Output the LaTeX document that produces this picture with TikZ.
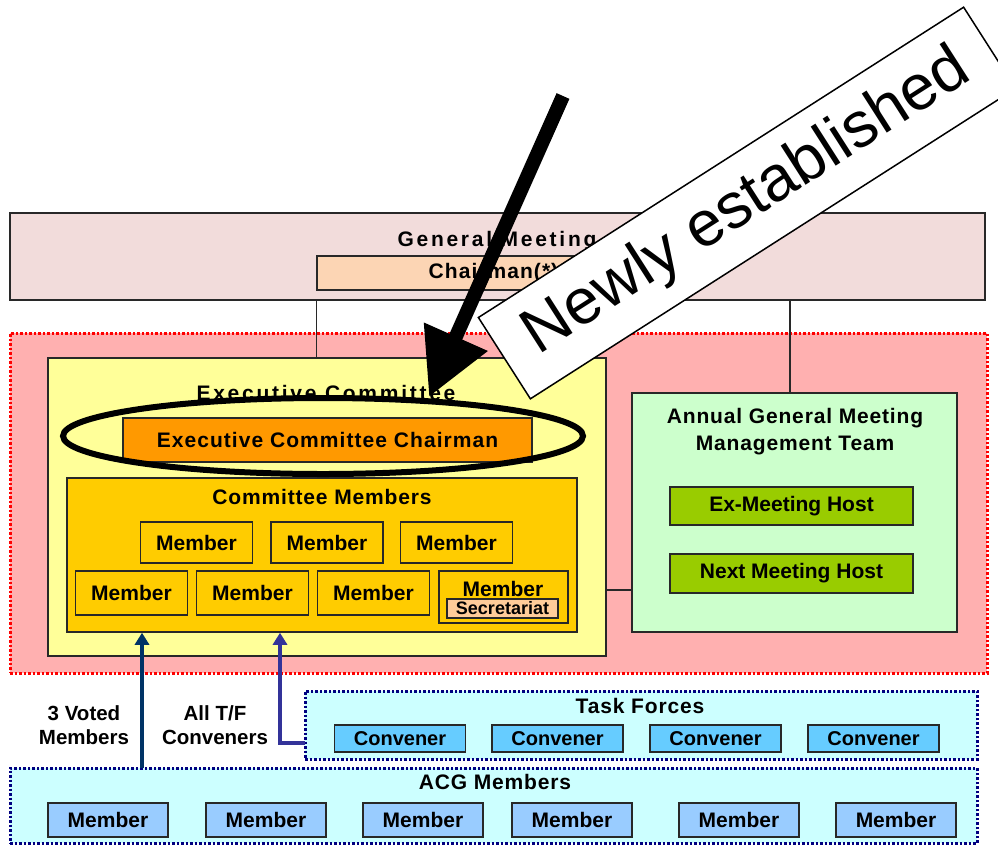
\documentclass[tikz,border=0pt]{standalone}
\usepackage{fontspec}
\setmainfont{Liberation Sans}
\usetikzlibrary{arrows.meta,calc,shapes.geometric}

\definecolor{gmfill}{RGB}{242,220,219}
\definecolor{chairfill}{RGB}{252,213,180}
\definecolor{redzone}{RGB}{255,176,176}
\definecolor{ecfill}{RGB}{255,255,153}
\definecolor{eccfill}{RGB}{255,153,0}
\definecolor{cmfill}{RGB}{255,204,0}
\definecolor{secfill}{RGB}{255,204,153}
\definecolor{agmfill}{RGB}{204,255,204}
\definecolor{hostfill}{RGB}{153,204,0}
\definecolor{cyanzone}{RGB}{204,255,255}
\definecolor{convfill}{RGB}{102,204,255}
\definecolor{acgfill}{RGB}{153,204,255}
\definecolor{boxline}{RGB}{40,40,40}
\definecolor{navyline}{RGB}{0,0,128}
\definecolor{votearrow}{RGB}{0,51,102}
\definecolor{tfarrow}{RGB}{51,51,153}

\tikzset{
  box/.style={draw=boxline, line width=1.5pt, inner sep=0pt,
    font=\bfseries\fontsize{21}{24}\selectfont},
  zone/.style={line width=3pt, dash pattern=on 2.5pt off 2pt, inner sep=0pt},
  heading/.style={inner sep=0pt, align=center,
    font=\bfseries\fontsize{21}{27}\selectfont\addfontfeature{LetterSpace=4}},
  bigheading/.style={inner sep=0pt,
    font=\bfseries\fontsize{21}{24}\selectfont\addfontfeature{LetterSpace=13}},
  sidelabel/.style={inner sep=0pt, align=center,
    font=\bfseries\fontsize{20.5}{24}\selectfont},
  flow/.style={line width=4pt, -{Triangle[length=12pt,width=14pt]}},
  link/.style={draw=boxline, line width=1.3pt},
}

\begin{document}
\begin{tikzpicture}[x=1pt,y=-1pt]
\useasboundingbox (0,0) rectangle (998,844);

% General meeting
\node[box, fill=gmfill, minimum width=975, minimum height=87] (gm) at (497.5,256.5) {};
\node[bigheading] (gmtitle) at (497,241) {General Meeting};
\node[box, fill=chairfill, minimum width=353, minimum height=34] (gmchair) at (493.5,273) {\addfontfeature{LetterSpace=5}Chairman(*)};

% Red zone with executive committee and AGM team
\node[zone, draw=red, fill=redzone, minimum width=977, minimum height=340] (redzone) at (498.5,503) {};

\draw[link] (gmchair.west |- gm.south) -- (gmchair.west |- 0,358) coordinate (ectop);

\node[box, fill=ecfill, minimum width=558, minimum height=298] (ec) at (327,507) {};
\node[bigheading] (ectitle) at (326,393) {Executive Committee};
\node[box, fill=eccfill, minimum width=409, minimum height=44] (ecc) at (327.5,440)
  {\addfontfeature{LetterSpace=5}Executive Committee Chairman};

\node[box, fill=cmfill, minimum width=510, minimum height=154] (cm) at (322,555) {};
\node[heading] (cmtitle) at (322,497) {Committee Members};

\foreach \n/\cx in {1/196.5, 2/327, 3/456.5}
  \node[box, fill=cmfill, minimum width=112, minimum height=41] (ma\n) at (\cx,542.5) {Member};
\foreach \n/\cx in {1/131.5, 2/252.5, 3/373.5}
  \node[box, fill=cmfill, minimum width=112, minimum height=44] (mb\n) at (\cx,593) {Member};
\node[box, fill=cmfill, minimum width=129, minimum height=52] (msec) at (503.5,597) {};
\node[inner sep=0pt, font=\bfseries\fontsize{21}{24}\selectfont] (msectext) at (503,589) {Member};
\node[box, fill=secfill, minimum width=111, minimum height=19,
  font=\bfseries\fontsize{18}{20}\selectfont] (secr) at (502.5,608.5) {Secretariat};

% Highlight ring around the new chairman post
\node[draw, ellipse, line width=6pt, minimum width=520, minimum height=76] (ring) at (323,436) {};

% AGM management team
\node[box, fill=agmfill, minimum width=325, minimum height=239] (agm) at (794.5,512.5) {};
\node[heading] (agmtitle) at (795,431.5) {Annual General Meeting\\Management Team};
\node[box, fill=hostfill, minimum width=243, minimum height=38] (exhost) at (791.5,506) {Ex-Meeting Host};
\node[box, fill=hostfill, minimum width=243, minimum height=39] (nxhost) at (791.5,573.5) {Next Meeting Host};

\draw[link] (agm.north -| 790,0) -- (790,0 |- gm.south);
\path (ec.east) ++(0,83) coordinate (ecagm);
\draw[link] (ecagm) -- (ecagm -| agm.west);

% Task forces
\node[zone, draw=navyline, fill=cyanzone, minimum width=672, minimum height=68] (tf) at (641,725) {};
\node[heading] (tftitle) at (640,706) {Task Forces};
\foreach \n/\cx in {1/400, 2/557.5, 3/715.5, 4/873.5}
  \node[box, fill=convfill, minimum width=131, minimum height=27,
    font=\bfseries\fontsize{20}{22}\selectfont] (conv\n) at (\cx,738.5) {Convener};

% ACG members
\node[zone, draw=navyline, fill=cyanzone, minimum width=967, minimum height=75] (acg) at (493.5,805.5) {};
\node[heading] (acgtitle) at (495,782) {ACG Members};
\foreach \n/\cx in {1/108, 2/266, 3/423, 4/572, 5/739, 6/896}
  \node[box, fill=acgfill, minimum width=120, minimum height=34] (acgm\n) at (\cx,820) {Member};

% Paths into the committee
\coordinate (voteroot) at (142,768);
\draw[flow, votearrow] (voteroot) -- (voteroot |- cm.south);
\coordinate (tfroot) at (305,743);
\draw[flow, tfarrow] (tfroot) -| ($(cm.south)+(-42,0)$);

\node[sidelabel] (votelabel) at (84,725) {3 Voted\\Members};
\node[sidelabel] (tflabel) at (215,725) {All T/F\\Conveners};

% Callout
\coordinate (bigtail) at (563,96);
\coordinate (bigtip) at (429,397);
\draw[line width=14pt, -{Triangle[length=66pt,width=66pt]}] (bigtail) -- (bigtip);

\node[draw, fill=white, line width=1.5pt, rotate=32.6, minimum width=576, minimum height=96.5,
  inner sep=0pt, font=\fontsize{64}{70}\selectfont] (newly) at (747,203) {Newly established};

\end{tikzpicture}
\end{document}
